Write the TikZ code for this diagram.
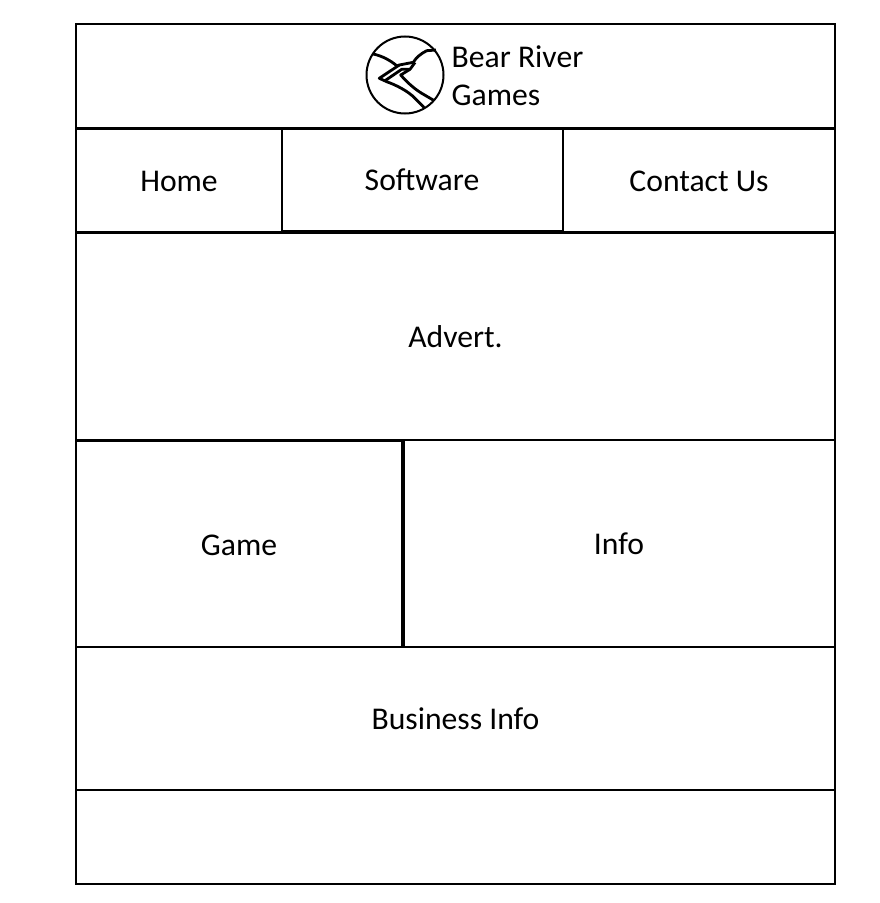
\documentclass[tikz,border=0pt]{standalone}
\usepackage{fontspec}
\setmainfont{Carlito}
\usetikzlibrary{positioning}
\tikzset{
  panel/.style={draw=black, line width=0.57pt},
  heavy/.style={draw=black, line width=0.85pt},
  bar/.style={draw=black, line width=1.1pt},
  river/.style={draw=black, line width=0.8pt, line join=round},
  note/.style={font=\fontsize{9pt}{10pt}\selectfont, inner sep=0pt, text=black}
}
\begin{document}
\begin{tikzpicture}[x=0.01cm,y=-0.01cm]
  \useasboundingbox (0,0) rectangle (880,903);
  % page frame and rows
  \draw[panel] (76,24) rectangle (835,884);
  \draw[heavy] (76,128.5)--(835,128.5);
  \draw[heavy] (76,232.5)--(835,232.5);
  \draw[heavy] (76,440)--(403,440);
  \draw[panel] (403,440)--(835,440);
  \draw[panel] (76,647)--(835,647);
  \draw[panel] (76,790)--(835,790);
  \draw[panel] (282,128)--(282,231)--(563,231)--(563,128);
  \draw[bar] (403,440)--(403,647);
  % logo
  \draw[panel] (405,75) circle (38.5);
  \draw[river] (373.3,54) .. controls (382,56) and (390,60) .. (397,66) -- (399.3,65) -- (413.3,62.3) .. controls (416,58) and (420,54) .. (426.7,50.7) -- (436,50);
  \draw[river] (399.3,65) -- (379.3,78.3) -- (386.7,81.7) .. controls (396,85) and (408,91) .. (415,98.3) -- (424,107.5);
  \draw[river] (385,80.7) -- (401.7,69.3) -- (410,69.3) -- (415,62.5);
  \draw[river] (410,69.3) -- (400.7,75) .. controls (406,81) and (413,88) .. (421.7,93.3) -- (434,100.5);
  % labels
  \node[note, anchor=west] (bear) at (451,57) {Bear River};
  \node[note, anchor=west] (games) at (451,95) {Games};
  \node[note] (home) at (179,181.5) {Home};
  \node[note] (software) at (422,180) {Software};
  \node[note] (contact) at (699,181) {Contact Us};
  \node[note] (advert) at (455.5,337) {Advert.};
  \node[note] (game) at (239,545) {Game};
  \node[note] (info) at (619,544) {Info};
  \node[note] (business) at (455.5,719) {Business Info};
\end{tikzpicture}
\end{document}
